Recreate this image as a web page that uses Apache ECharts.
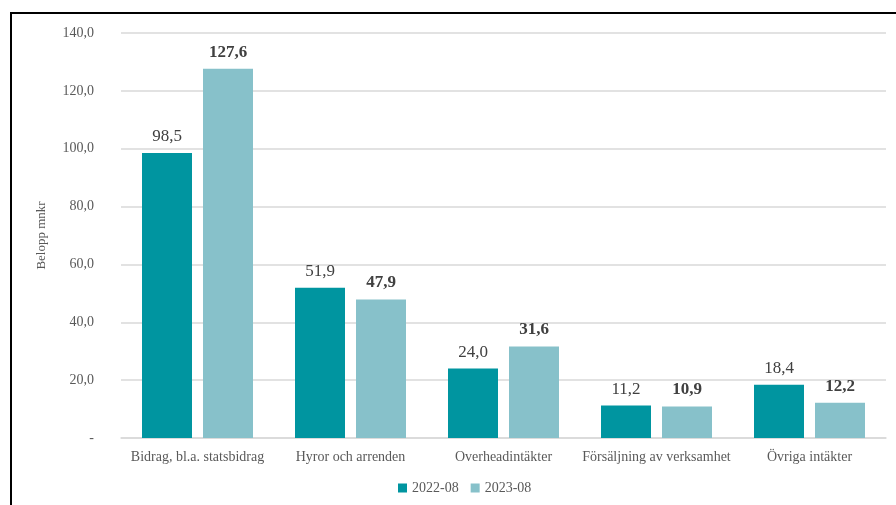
<!DOCTYPE html>
<html><head><meta charset="utf-8">
<script src="https://cdn.jsdelivr.net/npm/echarts@6/dist/echarts.min.js"></script>
<style>html,body{margin:0;padding:0;background:#fff}#c{width:896px;height:505px}</style>
</head><body><div id="c"></div>
<script>
const categories = ['Bidrag, bl.a. statsbidrag','Hyror och arrenden','Overheadintäkter','Försäljning av verksamhet','Övriga intäkter'];
const series2022 = [98.5, 51.9, 24.0, 11.2, 18.4];
const series2023 = [127.6, 47.9, 31.6, 10.9, 12.2];
const seriesNames = ['2022-08','2023-08'];
const yTicks = {min:0, max:140, interval:20};

const font = 'Liberation Serif, Times New Roman, serif';
const fmt = v => v === 0 ? '-' : v.toFixed(1).replace('.', ',');
const chart = echarts.init(document.getElementById('c'), null, {renderer:'canvas'});
chart.setOption({
  animation:false,
  textStyle:{fontFamily:font},
  grid:{left:121, right:10, top:33, bottom:67},
  legend:{bottom:5, left:393, itemWidth:9, itemHeight:9, itemGap:12, icon:'rect',
    textStyle:{fontFamily:font, fontSize:14, color:'#595959'}},
  xAxis:{type:'category', data:categories,
    axisLine:{lineStyle:{color:'#d9d9d9', width:1.5}}, axisTick:{show:false},
    axisLabel:{fontFamily:font, fontSize:14, color:'#595959', margin:12, interval:0}},
  yAxis:{type:'value', min:yTicks.min, max:yTicks.max, interval:yTicks.interval,
    name:'Belopp mnkr', nameLocation:'middle', nameGap:73, nameRotate:90,
    nameTextStyle:{fontFamily:font, fontSize:13, color:'#595959'},
    axisLine:{show:false}, axisTick:{show:false},
    splitLine:{lineStyle:{color:'#d9d9d9', width:1.5}},
    axisLabel:{fontFamily:font, fontSize:14, color:'#595959', margin:27, formatter:fmt}},
  graphic:[{type:'rect', shape:{x:11, y:13, width:900, height:510}, style:{fill:'none', stroke:'#000', lineWidth:2}, silent:true}],
  series:[
    {name:seriesNames[0], type:'bar', data:series2022, barWidth:50, barGap:'22%',
      itemStyle:{color:'#0095A0'},
      label:{show:true, position:'top', distance:8, fontFamily:font, fontSize:17, color:'#404040', formatter:p=>fmt(p.value)}},
    {name:seriesNames[1], type:'bar', data:series2023, barWidth:50,
      itemStyle:{color:'#87C1CA'},
      label:{show:true, position:'top', distance:8, fontFamily:font, fontSize:17, fontWeight:'bold', color:'#404040', formatter:p=>fmt(p.value)}}
  ]
});
</script></body></html>
